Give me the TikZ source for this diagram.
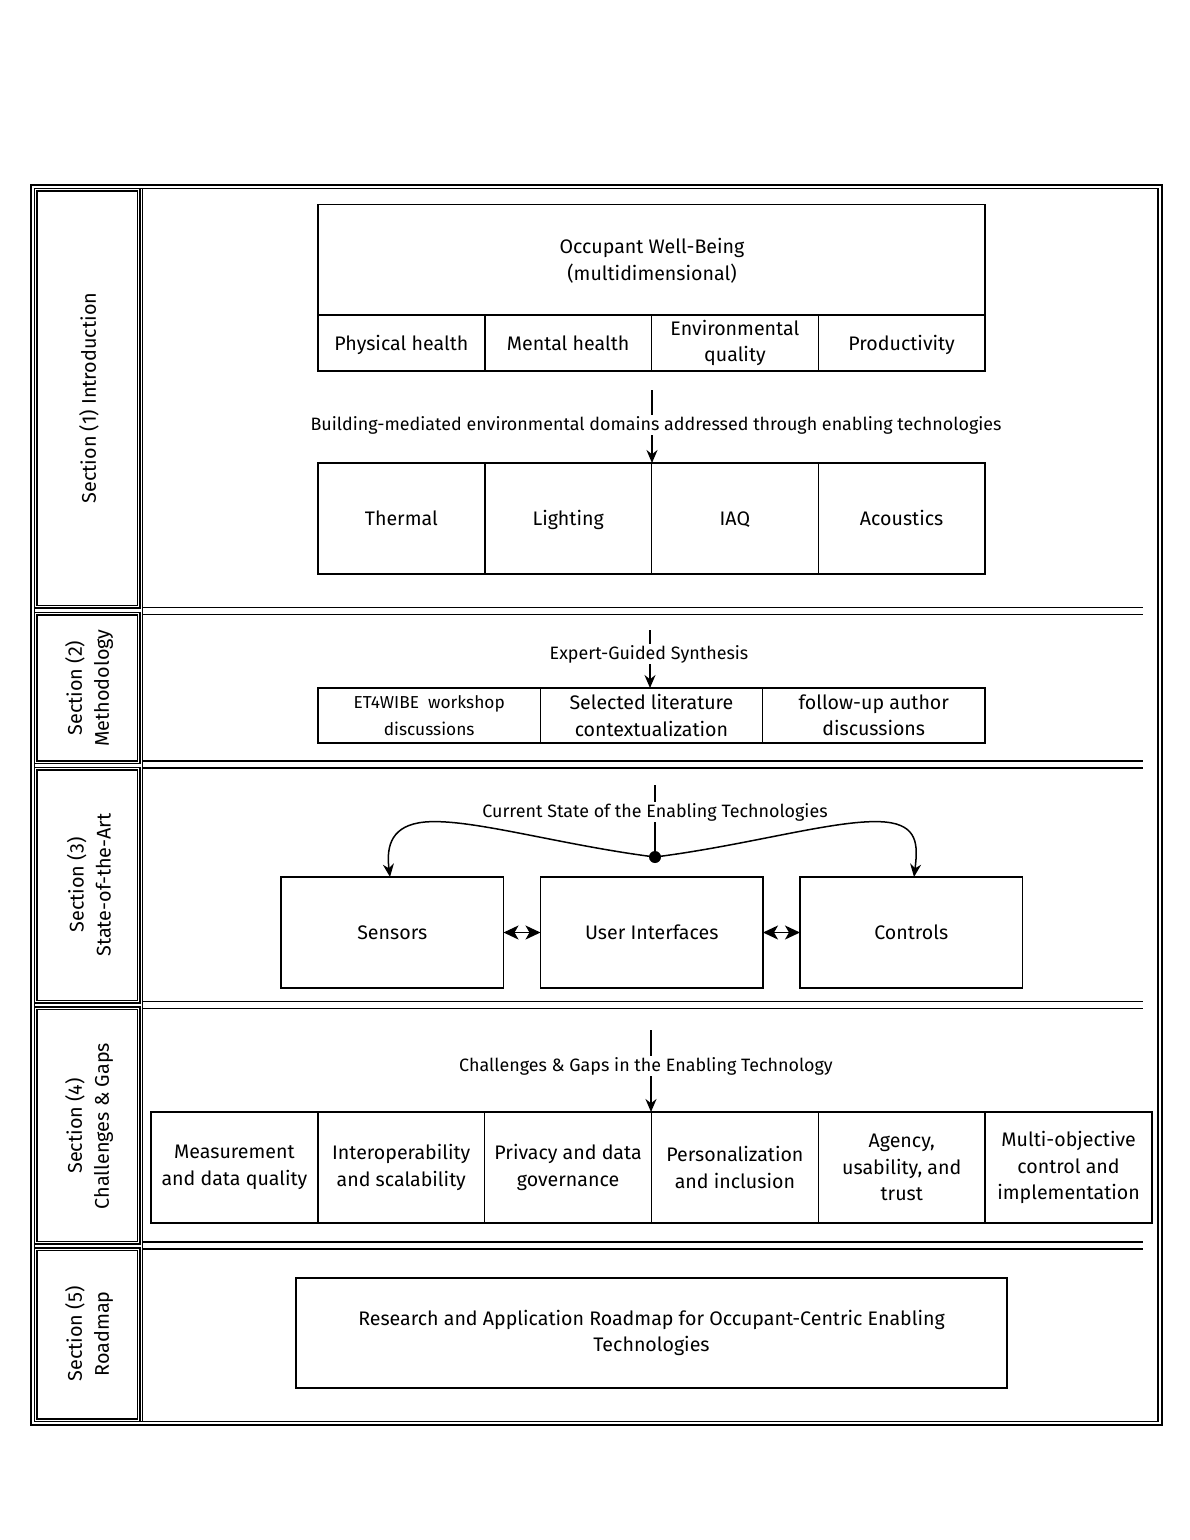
\documentclass[tikz,border=0pt]{standalone}
\usepackage{fontspec}
\setmainfont{Fira Sans}
\usetikzlibrary{arrows.meta}
\begin{document}
\begin{tikzpicture}[x=1pt,y=-1pt,
  frame/.style={line width=1.3pt},
  box/.style={draw, line width=1.5pt, inner sep=0pt, outer sep=0pt, align=center,
    font=\fontsize{19.6}{26.5}\selectfont},
  one/.style={text height=16pt, text depth=2pt},
  lbl/.style={fill=white, inner sep=1pt, font=\fontsize{17.9}{22}\selectfont},
  seclbl/.style={rotate=90, align=center, font=\fontsize{19.8}{27}\selectfont},
  arr/.style={line width=1.5pt, -{Stealth[length=13pt,width=11pt]}},
  darr/.style={line width=1.6pt, {Stealth[length=15pt,width=14pt,inset=4pt]}-{Stealth[length=15pt,width=14pt,inset=4pt]}}]
\useasboundingbox (0,0) rectangle (1190,1540);
% outer frame
\draw[frame] (31,185) rectangle (1162,1425);
\draw[frame] (34.5,188.5) rectangle (1158,1421.5);
\draw[frame] (142.5,188.5) -- (142.5,1421.5);
% label cells
\foreach \t/\b in {188.5/608, 612.5/763.5, 767.5/1003, 1007/1244, 1248/1421.5}{
  \draw[frame] (34.5,\t) rectangle (140,\b);
  \draw[frame] (37,\t+2.5) rectangle (137.5,\b-2.5);
}
% separators
\foreach \y in {607.5,614.5,761,768,1001.5,1008.5,1242,1249}{
  \draw[frame] (143,\y) -- (1143,\y);
}
% section labels
\node[seclbl] (s1) at (89,398) {Section (1) Introduction};
\node[seclbl] (s2) at (89,688) {Section (2)\\Methodology};
\node[seclbl] (s3) at (89,885) {Section (3)\\State-of-the-Art};
\node[seclbl] (s4) at (89,1126) {Section (4)\\Challenges \& Gaps};
\node[seclbl] (s5) at (89,1334) {Section (5)\\Roadmap};

% ---------- Section 1
\node[box, minimum width=667pt, minimum height=111pt, anchor=north west] (wb) at (318,204.5) {};
\node[font=\fontsize{19.6}{26.5}\selectfont, align=center] (wbt) at (652,261) {Occupant Well-Being\\(multidimensional)};
\node[box, one, minimum width=166.75pt, minimum height=56pt, anchor=north west] (ph) at (318,315) {Physical health};
\node[box, one, minimum width=166.75pt, minimum height=56pt, anchor=north west] (mh) at (484.75,315) {Mental health};
\node[box, minimum width=166.75pt, minimum height=56pt, anchor=north west] (eq) at (651.5,315) {Environmental\\quality};
\node[box, one, minimum width=166.75pt, minimum height=56pt, anchor=north west] (pr) at (818.25,315) {Productivity};
\coordinate (a1s) at (652,390);
\node[box, one, minimum width=166.75pt, minimum height=111pt, anchor=north west] (th) at (318,463) {Thermal};
\node[box, one, minimum width=166.75pt, minimum height=111pt, anchor=north west] (li) at (484.75,463) {Lighting};
\node[box, one, minimum width=166.75pt, minimum height=111pt, anchor=north west] (iaq) at (651.5,463) {IAQ};
\node[box, one, minimum width=166.75pt, minimum height=111pt, anchor=north west] (ac) at (818.25,463) {Acoustics};
\draw[arr] (a1s) -- (652,463);
\node[lbl] (l1) at (656,425) {Building-mediated environmental domains addressed through enabling technologies};

% ---------- Section 2
\coordinate (a2s) at (650,630);
\node[box, minimum width=222.3pt, minimum height=55pt, anchor=north west] (ws) at (318,688) {\fontsize{17.3}{26.5}\selectfont ET4WIBE\ \ workshop\\\fontsize{17.3}{26.5}\selectfont discussions};
\node[box, minimum width=222.3pt, minimum height=55pt, anchor=north west] (sl) at (540.3,688) {Selected literature\\contextualization};
\node[box, minimum width=222.3pt, minimum height=55pt, anchor=north west] (fu) at (762.6,688) {follow-up author\\discussions};
\draw[arr] (a2s) -- (650,688);
\node[lbl] (l2) at (649,654) {Expert-Guided Synthesis};

% ---------- Section 3
\coordinate (a3s) at (655,785);
\node[box, one, minimum width=222.5pt, minimum height=111pt, anchor=north west] (se) at (281,877) {Sensors};
\node[box, one, minimum width=222.5pt, minimum height=111pt, anchor=north west] (ui) at (540.5,877) {User Interfaces};
\node[box, one, minimum width=222.5pt, minimum height=111pt, anchor=north west] (co) at (800,877) {Controls};
\coordinate (dot) at (655,857);
\draw[line width=1.5pt] (a3s) -- (dot);
\node[lbl] (l3) at (655,812) {Current State of the Enabling Technologies};
\fill (dot) circle (6pt);
\draw[arr] (dot) .. controls (560,845) and (470,818) .. (425,822)
  .. controls (392,825) and (386,845) .. (390,877);
\draw[arr] (dot) .. controls (750,845) and (840,818) .. (885,822)
  .. controls (918,825) and (918,845) .. (914,877);
\draw[darr] (se.east) -- (ui.west);
\draw[darr] (ui.east) -- (co.west);

% ---------- Section 4
\coordinate (a4s) at (651,1030);
\node[box, minimum width=166.83pt, minimum height=111pt, anchor=north west] (c1) at (151,1112) {Measurement\\and data quality};
\node[box, minimum width=166.83pt, minimum height=111pt, anchor=north west] (c2) at (317.83,1112) {Interoperability\\and scalability};
\node[box, minimum width=166.83pt, minimum height=111pt, anchor=north west] (c3) at (484.67,1112) {Privacy and data\\governance};
\node[box, minimum width=166.83pt, minimum height=111pt, anchor=north west] (c4) at (651.5,1112) {Personalization\\and inclusion};
\node[box, minimum width=166.83pt, minimum height=111pt, anchor=north west] (c5) at (818.33,1112) {Agency,\\usability, and\\trust};
\node[box, minimum width=166.83pt, minimum height=111pt, anchor=north west] (c6) at (985.17,1112) {Multi-objective\\control and\\implementation};
\draw[arr] (a4s) -- (651,1112);
\node[lbl] (l4) at (646,1066) {Challenges \& Gaps in the Enabling Technology};

% ---------- Section 5
\node[box, minimum width=711pt, minimum height=110pt, anchor=north west] (rm) at (296,1278) {Research and Application Roadmap for Occupant-Centric Enabling\\Technologies};
\end{tikzpicture}
\end{document}
